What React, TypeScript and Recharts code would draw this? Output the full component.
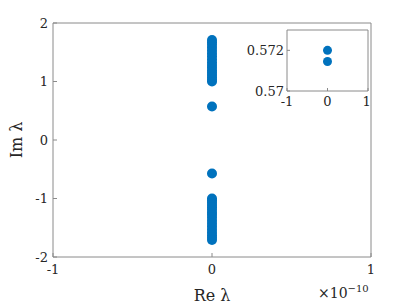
import { Scatter, ScatterChart, XAxis, YAxis, Label } from "recharts";

// eigenvalues lambda: real parts are ~0 (in units of 1e-10)
const imUpper = [1.0, 1.03, 1.07, 1.11, 1.15, 1.19, 1.24, 1.28, 1.33, 1.38, 1.43, 1.48, 1.53, 1.58, 1.63, 1.67, 1.71];
const imLower = [-1.0, -1.03, -1.07, -1.11, -1.15, -1.19, -1.24, -1.28, -1.33, -1.38, -1.43, -1.48, -1.53, -1.58, -1.63, -1.67, -1.71];
const imSingle = [0.572, -0.572];
const insetIm = [0.572, 0.57145];

const xTicks = [-1, 0, 1];
const yTicks = [-2, -1, 0, 1, 2];
const insetYTicks = [0.57, 0.572];

const blue = "#0072BD";
const axisGrey = "#8a8a8a";
const ink = "#262626";
const font = "DejaVu Serif";

const mainData = [...imUpper, ...imSingle, ...imLower].map((im) => ({ re: 0, im }));
const insetData = insetIm.map((im) => ({ re: 0, im }));

const dot = (r: number) => (p: any) => <circle cx={p.cx} cy={p.cy} r={r} fill={blue} />;
const tickStyle = { fill: ink, fontSize: 13, fontFamily: font };

export default function App() {
  return (
    <div style={{ position: "absolute", left: 0, top: 0, width: 409, height: 307, background: "#fff", fontFamily: font }}>
      <ScatterChart width={409} height={307} margin={{ top: 22, right: 37, bottom: 0, left: 13 }}>
        <XAxis
          xAxisId="b" dataKey="re" type="number" domain={[-1, 1]} ticks={xTicks} height={50}
          stroke={axisGrey} tickSize={-4} tickMargin={12} tick={tickStyle}
        >
          <Label value="Re λ" position="insideBottom" offset={6} style={{ fill: ink, fontSize: 16, fontFamily: font }} />
        </XAxis>
        <XAxis xAxisId="t" dataKey="re" orientation="top" type="number" domain={[-1, 1]} ticks={xTicks} height={1}
          stroke={axisGrey} tickSize={-4} tick={false} />
        <YAxis
          yAxisId="l" dataKey="im" type="number" domain={[-2, 2]} ticks={yTicks} width={40}
          stroke={axisGrey} tickSize={-4} tickMargin={9} tick={tickStyle}
        >
          <Label value="Im λ" angle={-90} position="insideLeft" offset={3} style={{ fill: ink, fontSize: 16, fontFamily: font, textAnchor: "middle" }} />
        </YAxis>
        <YAxis yAxisId="r" dataKey="im" orientation="right" type="number" domain={[-2, 2]} ticks={yTicks} width={1}
          stroke={axisGrey} tickSize={-4} tick={false} />
        <Scatter data={mainData} xAxisId="b" yAxisId="l" fill={blue} shape={dot(5)} isAnimationActive={false} />
        <Scatter data={mainData} xAxisId="t" yAxisId="r" fill="none" shape={() => <g />} isAnimationActive={false} />
      </ScatterChart>
      <div style={{ position: "absolute", left: 318, top: 283, fontSize: 14, color: ink }}>
        ×10<sup style={{ fontSize: 10 }}>−10</sup>
      </div>
      <div style={{ position: "absolute", left: 230, top: 20 }}>
        <ScatterChart width={140} height={93} margin={{ top: 9, right: 1, bottom: 0, left: 0 }}>
          <rect x={57} y={10} width={81} height={61} fill="#fff" />
          <XAxis xAxisId="b" dataKey="re" type="number" domain={[-1, 1]} ticks={xTicks} height={22}
            stroke={axisGrey} tickSize={-3} tickMargin={9} tick={tickStyle} />
          <XAxis xAxisId="t" dataKey="re" orientation="top" type="number" domain={[-1, 1]} ticks={xTicks} height={1}
            stroke={axisGrey} tickSize={-3} tick={false} />
          <YAxis yAxisId="l" dataKey="im" type="number" domain={[0.57, 0.573]} ticks={insetYTicks} width={57}
            stroke={axisGrey} tickSize={-3} tickMargin={6} tick={tickStyle} />
          <YAxis yAxisId="r" dataKey="im" orientation="right" type="number" domain={[0.57, 0.573]} ticks={insetYTicks} width={1}
            stroke={axisGrey} tickSize={-3} tick={false} />
          <Scatter data={insetData} xAxisId="b" yAxisId="l" fill={blue} shape={dot(4.5)} isAnimationActive={false} />
          <Scatter data={insetData} xAxisId="t" yAxisId="r" fill="none" shape={() => <g />} isAnimationActive={false} />
        </ScatterChart>
      </div>
    </div>
  );
}
